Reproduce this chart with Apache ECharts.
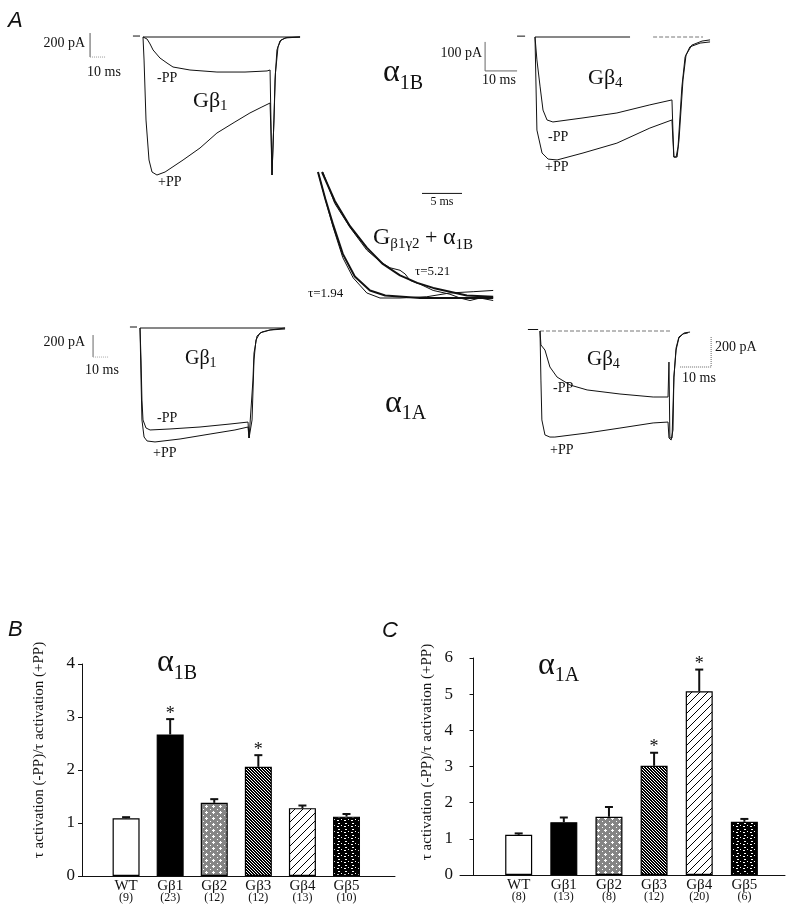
<!DOCTYPE html>
<html><head><meta charset="utf-8">
<script src="https://cdn.jsdelivr.net/npm/echarts@6.0.0/dist/echarts.min.js"></script>
<style>html,body{margin:0;padding:0;background:#fff}#c{width:799px;height:922px}</style>
</head><body><div id="c"></div>
<script>
const SERIF = '"Liberation Serif", "Times New Roman", serif';
const SANS = '"Liberation Sans", Arial, sans-serif';
const INK = '#111';

// ---------------- Panels B / C : bar data ----------------
const categories = ['WT', 'Gβ1', 'Gβ2', 'Gβ3', 'Gβ4', 'Gβ5'];
const nB = [9, 23, 12, 12, 13, 10];
const meanB = [1.09, 2.67, 1.38, 2.06, 1.28, 1.12];
const semB = [0.02, 0.29, 0.07, 0.22, 0.05, 0.05];
const sigB = [0, 1, 0, 1, 0, 0];
const ticksB = [0, 1, 2, 3, 4];
const nC = [8, 13, 8, 12, 20, 6];
const meanC = [1.11, 1.46, 1.61, 3.02, 5.08, 1.47];
const semC = [0.04, 0.13, 0.27, 0.36, 0.60, 0.08];
const sigC = [0, 0, 0, 1, 1, 0];
const ticksC = [0, 1, 2, 3, 4, 5, 6];
const yTitle = 'τ activation (-PP)/τ activation (+PP)';

// ---------------- Panel A : current traces [time ms, current pA] ----------------
// α1B + Gβ1
const a1B_Gb1_minusPP = [[0,0],[2.7,-17],[4.7,-58],[6.7,-108],[11.3,-175],[16,-217],[20,-250],[31.3,-275],[49.3,-292],[68,-292],[82.7,-283],[84.7,-275],[85.3,-692],[86,-1150],[86.7,-1150],[87.3,-692],[88,-358],[89.3,-108],[91.3,-33],[94.7,-8],[104.7,0]];
const a1B_Gb1_plusPP = [[0,0],[0.7,-192],[2,-692],[4,-1025],[6,-1125],[9.3,-1150],[14.7,-1125],[26.7,-1025],[38,-925],[49.3,-800],[61.3,-708],[71.3,-633],[79.3,-583],[84.7,-550],[85.3,-800],[86,-1150],[86.7,-1150],[87.3,-692],[88.3,-300],[90,-83],[92,-25],[96,-4],[104.7,0]];
const a1B_Gb1_zero = [[0,0],[104.7,0]];
const a1B_Gb1_hold = [[-6.7,8],[-2,8]];
const a1B_Gb1_barPA = [[-35.3,33],[-35.3,-167]];   // 200 pA
const a1B_Gb1_barMs = [[-35.3,-167],[-25.3,-167]]; // 10 ms
// α1B + Gβ4
const a1B_Gb4_minusPP = [[0,0],[0.6,-79],[1.6,-172],[2.5,-252],[3.75,-286],[5.6,-293],[15,-279],[25.6,-262],[35.9,-234],[42.8,-217],[43.1,-321],[43.4,-414],[44.1,-414],[44.7,-379],[45.9,-172],[46.9,-69],[48.4,-34],[51.6,-21],[54.7,-17]];
const a1B_Gb4_plusPP = [[0,0],[0.6,-321],[2.2,-400],[4.1,-421],[6.9,-424],[15,-400],[25.6,-366],[35.9,-314],[42.8,-286],[43.1,-355],[43.4,-414],[44.4,-414],[45,-355],[46.25,-148],[47.2,-62],[49,-28],[52.2,-14],[54.7,-10]];
const a1B_Gb4_zero = [[0,0],[29.7,0]];
const a1B_Gb4_zeroDot = [[36.9,0],[52.5,0]];
const a1B_Gb4_hold = [[-5.6,3],[-3.1,3]];
const a1B_Gb4_barPA = [[-15.6,-17],[-15.6,-117]];  // 100 pA
const a1B_Gb4_barMs = [[-15.6,-117],[-5.6,-117]];  // 10 ms
// Gβ1γ2 + α1B, normalised current, time ms
const fast_data = [[0,1.0],[1.1,0.74],[1.9,0.56],[3.1,0.32],[4.4,0.16],[6.1,0.04],[7.75,0],[10.25,0],[13.6,0.01],[16.5,0.04],[19.4,0.05],[21.9,0.06]];
const fast_fit = [[0,1.0],[0.9,0.79],[1.9,0.58],[3.1,0.35],[4.6,0.17],[6.5,0.06],[8.4,0.02],[12.75,0],[21.9,0]];
const slow_data = [[0.6,1.0],[2.1,0.75],[4,0.56],[6.1,0.38],[7.75,0.29],[9,0.24],[10.25,0.22],[10.9,0.19],[11.5,0.14],[12.75,0.11],[14.4,0.06],[16.5,0.03],[17.75,0],[19,-0.02],[20.25,0],[21.9,-0.02]];
const slow_fit = [[0.5,1.0],[2.1,0.77],[4,0.57],[6.1,0.40],[8.1,0.27],[10.25,0.18],[12.4,0.12],[14.4,0.08],[16.5,0.05],[18.6,0.02],[21.9,0.01]];
const inset_barMs = [[13,0.83],[18,0.83]]; // 5 ms
// α1A + Gβ1
const a1A_Gb1_minusPP = [[0,0],[0.7,-291],[1.3,-655],[2,-836],[4,-909],[6.7,-927],[20,-918],[40,-900],[60,-873],[72,-855],[72.7,-1000],[74,-1000],[75.3,-473],[76,-227],[78,-73],[81.3,-36],[86.7,-18],[96.7,-9]];
const a1A_Gb1_plusPP = [[0,0],[0.7,-473],[1.3,-836],[2.7,-991],[4.7,-1027],[10,-1036],[26.7,-1009],[46.7,-964],[63.3,-927],[72,-900],[72.7,-1000],[73.3,-1018],[74.7,-836],[76,-291],[77.3,-109],[80,-45],[86.7,-18],[96.7,0]];
const a1A_Gb1_zero = [[0,0],[96.7,0]];
const a1A_Gb1_hold = [[-6.7,9],[-2,9]];
const a1A_Gb1_barPA = [[-31.3,-64],[-31.3,-264]];  // 200 pA
const a1A_Gb1_barMs = [[-31.3,-264],[-21.3,-264]]; // 10 ms
// α1A + Gβ4
const a1A_Gb4_minusPP = [[0,0],[0.3,-93],[1.6,-127],[3.2,-240],[5.5,-307],[9.7,-360],[15.2,-393],[25.8,-420],[36.5,-440],[41.3,-440],[41.6,-207],[41.9,-713],[42.6,-713],[42.9,-707],[43.2,-307],[43.9,-127],[44.8,-47],[46.1,-20],[47.7,-13]];
const a1A_Gb4_plusPP = [[0,0],[0.3,-327],[0.6,-593],[1.6,-693],[3.2,-707],[4.8,-707],[15.2,-680],[25.8,-647],[36.5,-613],[41.3,-607],[41.6,-713],[42.3,-727],[42.9,-660],[43.2,-307],[43.9,-113],[44.8,-40],[46.5,-13],[48.4,-7]];
const a1A_Gb4_zero = [[0,0],[42,0]];
const a1A_Gb4_hold = [[-3.9,10],[-0.6,10]];
const a1A_Gb4_barPA = [[55.2,-40],[55.2,-240]];  // 200 pA
const a1A_Gb4_barMs = [[45.2,-240],[55.2,-240]]; // 10 ms

// ---------------- layout ----------------
const panels = [
  {x0:143, y0:37,  pxMs:1.5, pxU:0.12, t:[-40,110], i:[-1250,100]},
  {x0:535, y0:37,  pxMs:3.2, pxU:0.29, t:[-20,58],  i:[-440,20]},
  {x0:318, y0:298, pxMs:8,   pxU:126,  t:[-1,23],   i:[-0.1,1.05]},
  {x0:140, y0:328, pxMs:1.5, pxU:0.11, t:[-40,100], i:[-1100,50]},
  {x0:540, y0:331, pxMs:3.1, pxU:0.15, t:[-10,70],  i:[-760,40]}
];
const grids = [], xAxes = [], yAxes = [], series = [];
panels.forEach(p => {
  grids.push({left: p.x0 + p.t[0]*p.pxMs, width: (p.t[1]-p.t[0])*p.pxMs,
              top: p.y0 - p.i[1]*p.pxU, height: (p.i[1]-p.i[0])*p.pxU, outerBoundsMode:'none', containLabel:false});
  const gi = grids.length - 1;
  xAxes.push({gridIndex: gi, type:'value', show:false, min:p.t[0], max:p.t[1]});
  yAxes.push({gridIndex: gi, type:'value', show:false, min:p.i[0], max:p.i[1]});
});
function line(gi, data, w, type, color) {
  return {type:'line', xAxisIndex:gi, yAxisIndex:gi, data, symbol:'none', silent:true, clip:false,
          lineStyle:{color: color || INK, width: w || 1, type: type || 'solid'}, z:3};
}
series.push(
  line(0, a1B_Gb1_zero), line(0, a1B_Gb1_hold), line(0, a1B_Gb1_minusPP), line(0, a1B_Gb1_plusPP),
  line(0, a1B_Gb1_barPA, 1, 'solid', '#555'), line(0, a1B_Gb1_barMs, 1, 'dotted', '#999'),
  line(1, a1B_Gb4_zero), line(1, a1B_Gb4_zeroDot, 1, 'dashed', '#777'), line(1, a1B_Gb4_hold),
  line(1, a1B_Gb4_minusPP), line(1, a1B_Gb4_plusPP),
  line(1, a1B_Gb4_barPA, 1, 'solid', '#666'), line(1, a1B_Gb4_barMs, 1, 'solid', '#666'),
  line(2, fast_data, 1), line(2, fast_fit, 2), line(2, slow_data, 1), line(2, slow_fit, 2),
  line(2, inset_barMs, 1),
  line(3, a1A_Gb1_zero), line(3, a1A_Gb1_hold), line(3, a1A_Gb1_minusPP), line(3, a1A_Gb1_plusPP),
  line(3, a1A_Gb1_barPA, 1, 'solid', '#666'), line(3, a1A_Gb1_barMs, 1, 'dotted', '#aaa'),
  line(4, a1A_Gb4_zero, 1, 'dashed', '#777'), line(4, a1A_Gb4_hold), line(4, a1A_Gb4_minusPP), line(4, a1A_Gb4_plusPP),
  line(4, a1A_Gb4_barPA, 1, 'dotted', '#666'), line(4, a1A_Gb4_barMs, 1, 'dotted', '#666')
);

// ---------------- fill patterns ----------------
function tile(w, h, bg, fg, px) {
  const c = document.createElement('canvas'); c.width = w; c.height = h;
  const g = c.getContext('2d'); g.fillStyle = bg; g.fillRect(0, 0, w, h);
  g.fillStyle = fg; px.forEach(q => g.fillRect(q[0], q[1], 1, 1));
  return {image: c, repeat: 'repeat'};
}
const fills = [
  '#ffffff',
  '#000000',
  tile(7, 6, '#858585', '#ffffff', [[3,1],[2,2],[3,2],[4,2],[3,3],[0,5]]),
  tile(3, 3, '#ffffff', '#000000', [[0,0],[1,0],[1,1],[2,1],[2,2],[0,2]]),
  tile(8, 8, '#ffffff', '#000000', [[7,0],[6,1],[5,2],[4,3],[3,4],[2,5],[1,6],[0,7]]),
  tile(7, 6, '#000000', '#ffffff', [[2,1],[3,1],[5,3],[1,4],[2,4]])
];

// ---------------- bar charts ----------------
function barPanel(left, top, width, height, xmin, xmax, ticks, mean, sem, sig, n) {
  grids.push({left, top, width, height, outerBoundsMode:'none', containLabel:false});
  const gi = grids.length - 1;
  xAxes.push({gridIndex: gi, type:'value', min:xmin, max:xmax,
    axisLine:{show:true, onZero:false, lineStyle:{color:INK, width:1}},
    axisTick:{show:false}, splitLine:{show:false},
    axisLabel:{customValues: categories.map((c, k) => k + 1), margin: 4,
      formatter: v => { const k = Math.round(v) - 1; return '{a|' + categories[k] + '}\n{b|(' + n[k] + ')}'; },
      rich:{a:{fontFamily:SERIF, fontSize:15, color:INK, lineHeight:12},
            b:{fontFamily:SERIF, fontSize:12, color:INK, lineHeight:12}}}});
  yAxes.push({gridIndex: gi, type:'value', min:ticks[0], max:ticks[ticks.length-1], interval:1,
    axisLine:{show:true, lineStyle:{color:INK, width:1}},
    axisTick:{show:true, length:4, lineStyle:{color:INK}}, splitLine:{show:false},
    axisLabel:{fontFamily:SERIF, fontSize:17, color:INK, margin:7}});
  series.push({type:'bar', xAxisIndex:gi, yAxisIndex:gi, barWidth:27, silent:true, z:2,
    data: mean.map((v, k) => ({value:[k + 1, v], itemStyle:{color: fills[k], borderColor:'#000', borderWidth:1.2}}))});
  series.push({type:'custom', xAxisIndex:gi, yAxisIndex:gi, silent:true, z:4,
    data: mean.map((v, k) => [k + 1, v, sem[k], sig[k]]),
    renderItem: (params, api) => {
      const x = api.value(0), m = api.value(1), s = api.value(2), sg = api.value(3);
      const p0 = api.coord([x, m]), p1 = api.coord([x, m + s]);
      const ch = [
        {type:'line', shape:{x1:p0[0], y1:p0[1], x2:p1[0], y2:p1[1]}, style:{stroke:INK, lineWidth:2}},
        {type:'line', shape:{x1:p1[0]-4, y1:p1[1], x2:p1[0]+4, y2:p1[1]}, style:{stroke:INK, lineWidth:2}}
      ];
      if (sg) ch.push({type:'text', x:p1[0], y:p1[1]-5,
        style:{text:'*', font:'18px ' + SERIF, fill:INK, align:'center', verticalAlign:'middle', textAlign:'center', textVerticalAlign:'middle'}});
      return {type:'group', children: ch};
    }});
}
barPanel(82, 664, 313, 212, 0, 7.1, ticksB, meanB, semB, sigB, nB);
barPanel(460, 658, 325, 217, -0.3, 6.9, ticksC, meanC, semC, sigC, nC);

// ---------------- text annotations ----------------
const mctx = document.createElement('canvas').getContext('2d');
function fontOf(size, fam, st) { return (st ? st + ' ' : '') + size + 'px ' + (fam || SERIF); }
function txt(x, base, parts, align, fam, st) {
  let total = 0;
  const ws = parts.map(p => { mctx.font = fontOf(p[1], fam, st); const w = mctx.measureText(p[0]).width; total += w; return w; });
  let cx = align === 'right' ? x - total : align === 'center' ? x - total / 2 : x;
  return parts.map((p, k) => {
    const el = {type:'text', x: cx, y: base + (p[2] || 0) - 0.3 * p[1], silent:true,
      style:{text:p[0], font: fontOf(p[1], fam, st), fill:INK, align:'left', verticalAlign:'middle', textAlign:'left', textVerticalAlign:'middle'}};
    cx += ws[k]; return el;
  });
}
const els = [].concat(
  txt(8, 27, [['A', 22]], 'left', SANS, 'italic'),
  txt(8, 636, [['B', 22]], 'left', SANS, 'italic'),
  txt(382, 637, [['C', 22]], 'left', SANS, 'italic'),
  // top-left
  txt(85, 48, [['200 pA', 14]], 'right'), txt(87, 77, [['10 ms', 14]]),
  txt(157, 83, [['-PP', 14]]), txt(158, 187, [['+PP', 14]]),
  txt(193, 108, [['Gβ', 22], ['1', 15, 3]]),
  // center labels
  txt(383, 82, [['α', 32], ['1B', 20, 8]]),
  txt(385, 413, [['α', 32], ['1A', 20, 7]]),
  // top-right
  txt(482, 58, [['100 pA', 14]], 'right'), txt(482, 85, [['10 ms', 14]]),
  txt(588, 85, [['Gβ', 22], ['4', 15, 3]]),
  txt(548, 142, [['-PP', 14]]), txt(545, 172, [['+PP', 14]]),
  // inset
  txt(442, 205, [['5 ms', 12]], 'center'),
  txt(373, 245, [['G', 24], ['β1γ2', 15, 4], [' + ', 22], ['α', 24], ['1B', 15, 5]]),
  txt(415, 275, [['τ=5.21', 13]]), txt(308, 297, [['τ=1.94', 13]]),
  // bottom-left
  txt(85, 347, [['200 pA', 14]], 'right'), txt(85, 375, [['10 ms', 14]]),
  txt(185, 365, [['Gβ', 20], ['1', 14, 3]]),
  txt(157, 423, [['-PP', 14]]), txt(153, 458, [['+PP', 14]]),
  // bottom-right
  txt(715, 352, [['200 pA', 14]]), txt(682, 383, [['10 ms', 14]]),
  txt(587, 366, [['Gβ', 21], ['4', 14, 3]]),
  txt(553, 393, [['-PP', 14]]), txt(550, 455, [['+PP', 14]]),
  // bar chart titles
  txt(157, 672, [['α', 32], ['1B', 20, 8]]),
  txt(538, 675, [['α', 32], ['1A', 20, 7]])
);
[[39, 750], [427, 752]].forEach(q => els.push({type:'text', x:q[0], y:q[1], rotation: Math.PI / 2, silent:true,
  style:{text: yTitle, font: '15px ' + SERIF, fill: INK, align:'center', verticalAlign:'middle', textAlign:'center', textVerticalAlign:'middle'}}));

const chart = echarts.init(document.getElementById('c'), null, {renderer:'canvas', width:799, height:922});
chart.setOption({
  backgroundColor:'#ffffff', animation:false,
  grid: grids, xAxis: xAxes, yAxis: yAxes, series,
  graphic: {elements: els}
});
</script></body></html>
